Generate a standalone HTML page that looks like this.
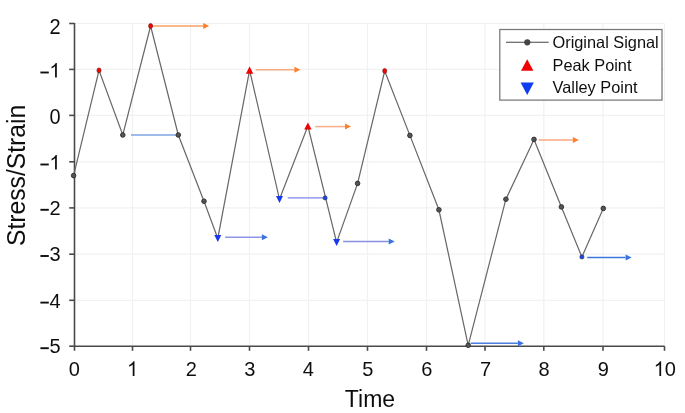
<!DOCTYPE html>
<html><head><meta charset="utf-8"><style>
html,body{margin:0;padding:0;background:#fff;}
body{width:685px;height:413px;overflow:hidden;font-family:"Liberation Sans",sans-serif;}
svg{display:block;}
</style></head><body>
<svg width="685" height="413" viewBox="0 0 685 413">
<defs><filter id="bl" filterUnits="userSpaceOnUse" x="0" y="0" width="685" height="413"><feGaussianBlur stdDeviation="0.55"/></filter></defs>
<rect width="685" height="413" fill="#fff"/>
<g filter="url(#bl)">
<line x1="132.5" y1="23.5" x2="132.5" y2="346.2" stroke="#f1f1f1" stroke-width="1.2"/>
<line x1="190.5" y1="23.5" x2="190.5" y2="346.2" stroke="#f1f1f1" stroke-width="1.2"/>
<line x1="249.5" y1="23.5" x2="249.5" y2="346.2" stroke="#f1f1f1" stroke-width="1.2"/>
<line x1="308.5" y1="23.5" x2="308.5" y2="346.2" stroke="#f1f1f1" stroke-width="1.2"/>
<line x1="367.5" y1="23.5" x2="367.5" y2="346.2" stroke="#f1f1f1" stroke-width="1.2"/>
<line x1="426.5" y1="23.5" x2="426.5" y2="346.2" stroke="#f1f1f1" stroke-width="1.2"/>
<line x1="485.0" y1="23.5" x2="485.0" y2="346.2" stroke="#f1f1f1" stroke-width="1.2"/>
<line x1="543.8" y1="23.5" x2="543.8" y2="346.2" stroke="#f1f1f1" stroke-width="1.2"/>
<line x1="603.0" y1="23.5" x2="603.0" y2="346.2" stroke="#f1f1f1" stroke-width="1.2"/>
<line x1="664.5" y1="23.5" x2="664.5" y2="346.2" stroke="#f1f1f1" stroke-width="1.2"/>
<line x1="74.5" y1="23.5" x2="664.5" y2="23.5" stroke="#f1f1f1" stroke-width="1.2"/>
<line x1="74.5" y1="69.4" x2="664.5" y2="69.4" stroke="#f1f1f1" stroke-width="1.2"/>
<line x1="74.5" y1="115.4" x2="664.5" y2="115.4" stroke="#f1f1f1" stroke-width="1.2"/>
<line x1="74.5" y1="161.8" x2="664.5" y2="161.8" stroke="#f1f1f1" stroke-width="1.2"/>
<line x1="74.5" y1="207.9" x2="664.5" y2="207.9" stroke="#f1f1f1" stroke-width="1.2"/>
<line x1="74.5" y1="254.2" x2="664.5" y2="254.2" stroke="#f1f1f1" stroke-width="1.2"/>
<line x1="74.5" y1="300.3" x2="664.5" y2="300.3" stroke="#f1f1f1" stroke-width="1.2"/>
<path d="M74.5 23.0 V346.2 H664.5" fill="none" stroke="#4a4a4a" stroke-width="1.6"/>
<line x1="69.2" y1="23.5" x2="74.5" y2="23.5" stroke="#4a4a4a" stroke-width="1.6"/>
<line x1="69.2" y1="69.4" x2="74.5" y2="69.4" stroke="#4a4a4a" stroke-width="1.6"/>
<line x1="69.2" y1="115.4" x2="74.5" y2="115.4" stroke="#4a4a4a" stroke-width="1.6"/>
<line x1="69.2" y1="161.8" x2="74.5" y2="161.8" stroke="#4a4a4a" stroke-width="1.6"/>
<line x1="69.2" y1="207.9" x2="74.5" y2="207.9" stroke="#4a4a4a" stroke-width="1.6"/>
<line x1="69.2" y1="254.2" x2="74.5" y2="254.2" stroke="#4a4a4a" stroke-width="1.6"/>
<line x1="69.2" y1="300.3" x2="74.5" y2="300.3" stroke="#4a4a4a" stroke-width="1.6"/>
<line x1="69.2" y1="346.2" x2="74.5" y2="346.2" stroke="#4a4a4a" stroke-width="1.6"/>
<line x1="74.5" y1="346.2" x2="74.5" y2="350.8" stroke="#4a4a4a" stroke-width="1.6"/>
<line x1="132.5" y1="346.2" x2="132.5" y2="350.8" stroke="#4a4a4a" stroke-width="1.6"/>
<line x1="190.5" y1="346.2" x2="190.5" y2="350.8" stroke="#4a4a4a" stroke-width="1.6"/>
<line x1="249.5" y1="346.2" x2="249.5" y2="350.8" stroke="#4a4a4a" stroke-width="1.6"/>
<line x1="308.5" y1="346.2" x2="308.5" y2="350.8" stroke="#4a4a4a" stroke-width="1.6"/>
<line x1="367.5" y1="346.2" x2="367.5" y2="350.8" stroke="#4a4a4a" stroke-width="1.6"/>
<line x1="426.5" y1="346.2" x2="426.5" y2="350.8" stroke="#4a4a4a" stroke-width="1.6"/>
<line x1="485.0" y1="346.2" x2="485.0" y2="350.8" stroke="#4a4a4a" stroke-width="1.6"/>
<line x1="543.8" y1="346.2" x2="543.8" y2="350.8" stroke="#4a4a4a" stroke-width="1.6"/>
<line x1="603.0" y1="346.2" x2="603.0" y2="350.8" stroke="#4a4a4a" stroke-width="1.6"/>
<line x1="664.5" y1="346.2" x2="664.5" y2="350.8" stroke="#4a4a4a" stroke-width="1.6"/>
<path d="M73.6 175.6 L99.0 70.4 L122.8 135.0 L150.6 26.0 L178.3 135.0 L204.0 201.2 L217.8 238.4 L249.6 70.1 L279.5 199.3 L307.9 126.0 L336.6 242.5 L357.6 183.4 L384.7 71.0 L409.9 135.4 L438.9 209.8 L468.2 345.3 L505.9 199.2 L534.0 139.4 L561.4 206.9 L581.9 256.9 L603.3 208.4" fill="none" stroke="#686868" stroke-width="1.22" stroke-linejoin="miter"/>
<line x1="131.0" y1="135.0" x2="177.5" y2="135.0" stroke="#7FA6E6" stroke-width="1.7"/>
<line x1="287.8" y1="197.9" x2="323.5" y2="197.9" stroke="#A0A8EE" stroke-width="1.7"/>
<line x1="150.3" y1="25.9" x2="203.2" y2="25.9" stroke="#F9A06A" stroke-width="1.55"/>
<path d="M203.2 22.9 L209.2 25.9 L203.2 28.9 Z" fill="#FF7F2A"/>
<line x1="255.8" y1="69.8" x2="294.4" y2="69.8" stroke="#F6AA84" stroke-width="1.55"/>
<path d="M294.4 66.8 L300.4 69.8 L294.4 72.8 Z" fill="#FF7F2A"/>
<line x1="315.1" y1="126.6" x2="345.0" y2="126.6" stroke="#FAB08C" stroke-width="1.55"/>
<path d="M345.0 123.6 L351.0 126.6 L345.0 129.6 Z" fill="#FF7F2A"/>
<line x1="538.7" y1="140.0" x2="572.8" y2="140.0" stroke="#FAAA80" stroke-width="1.55"/>
<path d="M572.8 137.0 L578.8 140.0 L572.8 143.0 Z" fill="#FF7F2A"/>
<line x1="225.1" y1="237.3" x2="261.9" y2="237.3" stroke="#8C95E8" stroke-width="1.55"/>
<path d="M261.9 234.3 L267.9 237.3 L261.9 240.3 Z" fill="#3A72E0"/>
<line x1="343.1" y1="241.4" x2="388.7" y2="241.4" stroke="#8890E0" stroke-width="1.55"/>
<path d="M388.7 238.4 L394.7 241.4 L388.7 244.4 Z" fill="#3A72E0"/>
<line x1="470.7" y1="343.2" x2="517.9" y2="343.2" stroke="#4A7FE0" stroke-width="1.55"/>
<path d="M517.9 340.2 L523.9 343.2 L517.9 346.2 Z" fill="#3A72E0"/>
<line x1="587.2" y1="257.4" x2="625.6" y2="257.4" stroke="#3A78DD" stroke-width="1.55"/>
<path d="M625.6 254.39999999999998 L631.6 257.4 L625.6 260.4 Z" fill="#3A72E0"/>
<circle cx="73.6" cy="175.6" r="2.3" fill="#555" stroke="#2a2a2a" stroke-width="0.9"/>
<ellipse cx="99.0" cy="70.4" rx="2.05" ry="2.45" fill="#ff0000" stroke="#6a1010" stroke-width="0.6"/>
<circle cx="122.8" cy="135.0" r="2.3" fill="#555" stroke="#2a2a2a" stroke-width="0.9"/>
<ellipse cx="150.6" cy="26.0" rx="2.05" ry="2.45" fill="#ff0000" stroke="#6a1010" stroke-width="0.6"/>
<circle cx="178.3" cy="135.0" r="2.3" fill="#555" stroke="#2a2a2a" stroke-width="0.9"/>
<circle cx="204.0" cy="201.2" r="2.3" fill="#555" stroke="#2a2a2a" stroke-width="0.9"/>
<path d="M214.3 235.0 L221.3 235.0 L217.8 242.0 Z" fill="#1838ee"/>
<path d="M249.6 66.5 L253.29999999999998 73.69999999999999 L245.9 73.69999999999999 Z" fill="#f00000"/>
<path d="M276.0 195.9 L283.0 195.9 L279.5 202.9 Z" fill="#1838ee"/>
<path d="M307.9 122.4 L311.59999999999997 129.6 L304.2 129.6 Z" fill="#f00000"/>
<path d="M333.1 239.1 L340.1 239.1 L336.6 246.1 Z" fill="#1838ee"/>
<circle cx="357.6" cy="183.4" r="2.3" fill="#555" stroke="#2a2a2a" stroke-width="0.9"/>
<ellipse cx="384.7" cy="71.0" rx="2.05" ry="2.45" fill="#ff0000" stroke="#6a1010" stroke-width="0.6"/>
<circle cx="409.9" cy="135.4" r="2.3" fill="#555" stroke="#2a2a2a" stroke-width="0.9"/>
<circle cx="438.9" cy="209.8" r="2.3" fill="#555" stroke="#2a2a2a" stroke-width="0.9"/>
<circle cx="468.2" cy="345.3" r="2.3" fill="#555" stroke="#2a2a2a" stroke-width="0.9"/>
<circle cx="505.9" cy="199.2" r="2.3" fill="#555" stroke="#2a2a2a" stroke-width="0.9"/>
<circle cx="534.0" cy="139.4" r="2.3" fill="#555" stroke="#2a2a2a" stroke-width="0.9"/>
<circle cx="561.4" cy="206.9" r="2.3" fill="#555" stroke="#2a2a2a" stroke-width="0.9"/>
<circle cx="581.9" cy="256.9" r="2.1" fill="#1546f0" stroke="#333" stroke-width="0.6"/>
<circle cx="603.3" cy="208.4" r="2.3" fill="#555" stroke="#2a2a2a" stroke-width="0.9"/>
<circle cx="325.1" cy="197.9" r="2.1" fill="#1546f0" stroke="#333" stroke-width="0.6"/>
<text transform="translate(49.38 33.8) scale(1 1.06)" font-family="Liberation Sans, sans-serif" font-size="20" fill="#111">2</text>
<path transform="translate(49.38 77.5) scale(0.009766 -0.009766)" d="M763 0L583 0L583 1147Q518 1085 412.5 1023Q307 961 223 930L223 1104Q374 1175 487 1276Q600 1377 647 1472L763 1472Z" fill="#111"/>
<rect x="40.4" y="71.55" width="8.4" height="1.9" fill="#111"/>
<text transform="translate(49.38 123.8) scale(1 1.1)" font-family="Liberation Sans, sans-serif" font-size="20" fill="#111">0</text>
<path transform="translate(49.38 169.5) scale(0.009766 -0.009766)" d="M763 0L583 0L583 1147Q518 1085 412.5 1023Q307 961 223 930L223 1104Q374 1175 487 1276Q600 1377 647 1472L763 1472Z" fill="#111"/>
<rect x="40.4" y="163.55" width="8.4" height="1.9" fill="#111"/>
<text transform="translate(49.38 214.8) scale(1 1.0)" font-family="Liberation Sans, sans-serif" font-size="20" fill="#111">2</text>
<rect x="40.4" y="208.85" width="8.4" height="1.9" fill="#111"/>
<text transform="translate(49.38 261.0) scale(1 1.0)" font-family="Liberation Sans, sans-serif" font-size="20" fill="#111">3</text>
<rect x="40.4" y="255.05" width="8.4" height="1.9" fill="#111"/>
<text transform="translate(49.38 307.6) scale(1 1.0)" font-family="Liberation Sans, sans-serif" font-size="20" fill="#111">4</text>
<rect x="40.4" y="301.65" width="8.4" height="1.9" fill="#111"/>
<text transform="translate(49.38 353.2) scale(1 1.0)" font-family="Liberation Sans, sans-serif" font-size="20" fill="#111">5</text>
<rect x="40.4" y="347.25" width="8.4" height="1.9" fill="#111"/>
<text transform="translate(68.74 376.1) scale(1 1.03)" font-family="Liberation Sans, sans-serif" font-size="20" fill="#111">0</text>
<path transform="translate(127.04 376.1) scale(0.009766 -0.010059)" d="M763 0L583 0L583 1147Q518 1085 412.5 1023Q307 961 223 930L223 1104Q374 1175 487 1276Q600 1377 647 1472L763 1472Z" fill="#111"/>
<text transform="translate(185.74 376.1) scale(1 1.03)" font-family="Liberation Sans, sans-serif" font-size="20" fill="#111">2</text>
<text transform="translate(244.24 376.1) scale(1 1.03)" font-family="Liberation Sans, sans-serif" font-size="20" fill="#111">3</text>
<text transform="translate(302.74 376.1) scale(1 1.03)" font-family="Liberation Sans, sans-serif" font-size="20" fill="#111">4</text>
<text transform="translate(362.34 376.1) scale(1 1.03)" font-family="Liberation Sans, sans-serif" font-size="20" fill="#111">5</text>
<text transform="translate(421.34 376.1) scale(1 1.03)" font-family="Liberation Sans, sans-serif" font-size="20" fill="#111">6</text>
<text transform="translate(479.94 376.1) scale(1 1.03)" font-family="Liberation Sans, sans-serif" font-size="20" fill="#111">7</text>
<text transform="translate(538.44 376.1) scale(1 1.03)" font-family="Liberation Sans, sans-serif" font-size="20" fill="#111">8</text>
<text transform="translate(597.64 376.1) scale(1 1.03)" font-family="Liberation Sans, sans-serif" font-size="20" fill="#111">9</text>
<path transform="translate(653.68 376.1) scale(0.009766 -0.010059)" d="M763 0L583 0L583 1147Q518 1085 412.5 1023Q307 961 223 930L223 1104Q374 1175 487 1276Q600 1377 647 1472L763 1472Z" fill="#111"/>
<text transform="translate(664.80 376.1) scale(1 1.03)" font-family="Liberation Sans, sans-serif" font-size="20" fill="#111">0</text>
<text x="370" y="406.6" font-family="Liberation Sans, sans-serif" font-size="23" text-anchor="middle" fill="#111">Time</text>
<text transform="translate(24.6 175.4) rotate(-90) scale(1 1.05)" font-family="Liberation Sans, sans-serif" font-size="24.7" text-anchor="middle" fill="#111">Stress/Strain</text>
<rect x="499.8" y="29.5" width="162.2" height="70.6" fill="#fff" stroke="#777" stroke-width="1.25"/>
<line x1="506" y1="42.3" x2="548.7" y2="42.3" stroke="#444" stroke-width="1.1"/>
<circle cx="527.3" cy="42.3" r="3.1" fill="#444"/>
<path d="M527.2 59.3 L533.4 70.7 L521 70.7 Z" fill="#f00000"/>
<path d="M520.6 82.6 L533.8 82.6 L527.2 94.9 Z" fill="#0a3ef0"/>
<text transform="translate(552.5 47.8) scale(1 1.06)" font-family="Liberation Sans, sans-serif" font-size="16.35" fill="#111">Original Signal</text>
<text transform="translate(552.5 70.8) scale(1 1.06)" font-family="Liberation Sans, sans-serif" font-size="16.35" fill="#111">Peak Point</text>
<text transform="translate(552.5 93.4) scale(1 1.06)" font-family="Liberation Sans, sans-serif" font-size="16.35" fill="#111">Valley Point</text>
</g>
</svg>
</body></html>
